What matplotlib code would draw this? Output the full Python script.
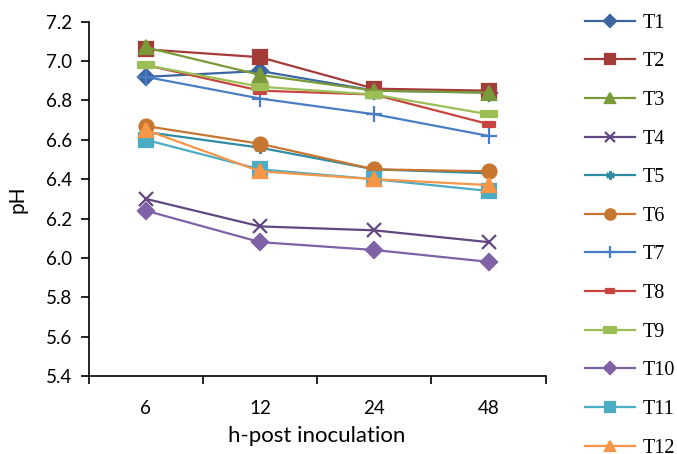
import numpy as np
import matplotlib.pyplot as plt
from matplotlib.path import Path

hours = ['6', '12', '24', '48']
labels = ['T1', 'T2', 'T3', 'T4', 'T5', 'T6', 'T7', 'T8', 'T9', 'T10', 'T11', 'T12']

T1 = [6.92, 6.95, 6.85, 6.84]
T2 = [7.06, 7.02, 6.86, 6.85]
T3 = [7.07, 6.93, 6.85, 6.84]
T4 = [6.30, 6.16, 6.14, 6.08]
T5 = [6.64, 6.56, 6.45, 6.43]
T6 = [6.67, 6.58, 6.45, 6.44]
T7 = [6.92, 6.81, 6.73, 6.62]
T8 = [6.98, 6.85, 6.83, 6.68]
T9 = [6.98, 6.87, 6.83, 6.73]
T10 = [6.24, 6.08, 6.04, 5.98]
T11 = [6.60, 6.45, 6.40, 6.34]
T12 = [6.65, 6.44, 6.40, 6.37]
series = [T1, T2, T3, T4, T5, T6, T7, T8, T9, T10, T11, T12]

colors = ['#3b66a0', '#a33b38', '#7a9a3a', '#614880', '#2e8ba3', '#c7762f',
          '#4a7ec4', '#c8453f', '#9bbf55', '#7f62a6', '#4bacc6', '#f79646']

# small rectangles for the dash markers
dash_s = Path([(-1, -0.45), (1, -0.45), (1, 0.45), (-1, 0.45), (-1, -0.45)],
              [Path.MOVETO, Path.LINETO, Path.LINETO, Path.LINETO, Path.CLOSEPOLY])
markers = ['D', 's', '^', 'x', (6, 2, 0), 'o', '+', dash_s, dash_s, 'D', 's', '^']
msizes = [8, 10, 10, 10, 8, 10, 11, 8, 11, 8, 10, 10]

fig = plt.figure(figsize=(6.77, 4.54), dpi=100)
ax = fig.add_axes([0.131, 0.172, 0.675, 0.780])

x = np.arange(len(hours))
for lab, vals, c, m, ms in zip(labels, series, colors, markers, msizes):
    ax.plot(x, vals, color=c, lw=1.6, marker=m, markersize=ms,
            markerfacecolor=c, markeredgecolor=c, markeredgewidth=1.6, label=lab)

ax.set_xlim(-0.5, 3.5)
ax.set_ylim(5.4, 7.2)
ax.set_yticks(np.arange(5.4, 7.21, 0.2))
ax.set_yticklabels(['%.1f' % v for v in np.arange(5.4, 7.21, 0.2)])
ax.set_xticks(x)
ax.set_xticklabels(hours)
ax.set_xticks(np.arange(-0.5, 3.6, 1), minor=True)
ax.tick_params(axis='x', which='major', length=0, pad=17)
ax.tick_params(axis='x', which='minor', length=6, direction='out', width=1.2)
ax.tick_params(axis='y', length=6, direction='out', width=1.2, pad=6)
ax.tick_params(labelsize=13.5)
for lab in ax.get_xticklabels() + ax.get_yticklabels():
    lab.set_family('Lato')
for s in ['left', 'bottom']:
    ax.spines[s].set_linewidth(1.2)
ax.spines['top'].set_visible(False)
ax.spines['right'].set_visible(False)
ax.set_xlabel('h-post inoculation', fontsize=16, family='Lato', labelpad=7)
ax.set_ylabel('pH', fontsize=15, family='Lato', labelpad=13)

leg = fig.legend(loc='upper left', bbox_to_anchor=(0.838, 1.01), frameon=False,
                 prop={'family': 'Liberation Serif', 'size': 14.5},
                 handlelength=2.45, labelspacing=0.97, handletextpad=0.4)
for h in leg.legend_handles:
    h.set_markersize(h.get_markersize() * 0.75)

plt.savefig('out.png', dpi=100)
